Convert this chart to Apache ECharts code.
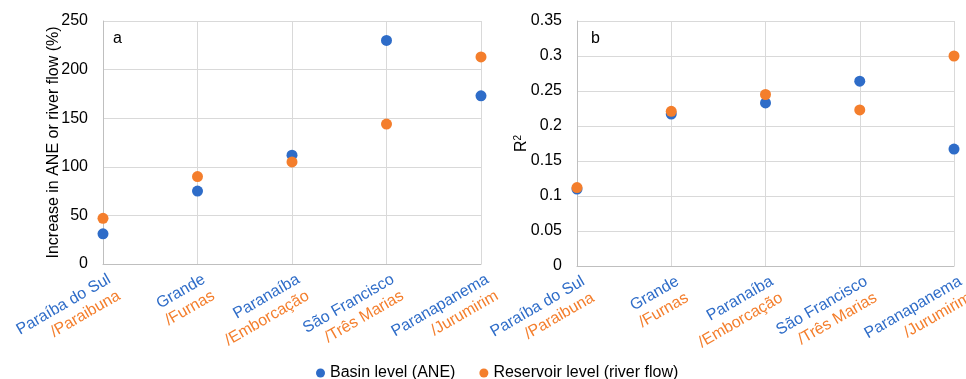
<!DOCTYPE html>
<html>
<head>
    <meta charset="utf-8">
    <title>Basin vs reservoir</title>
    <script src="https://cdn.jsdelivr.net/npm/echarts@6.0.0/dist/echarts.min.js"></script>
</head>
<body style="margin:0;background:#fff;">
    <div id="chart" style="width: 966px; height: 379px;"></div>
    <script>
        var basins = ["Paraíba do Sul", "Grande", "Paranaíba", "São Francisco", "Paranapanema"];
        var reservoirs = ["/Paraibuna", "/Furnas", "/Emborcação", "/Três Marias", "/Jurumirim"];

        // panel a: increase (%)
        var increaseBasin = [31, 75, 112, 230, 173];
        var increaseReservoir = [47, 90, 105, 144, 213];
        // panel b: R2
        var r2Basin = [0.11, 0.217, 0.233, 0.264, 0.167];
        var r2Reservoir = [0.112, 0.221, 0.245, 0.223, 0.300];

        var blue = '#2e6cc8';
        var orange = '#f47e2c';
        var font = 'Liberation Sans, Arial, sans-serif';

        var chart = echarts.init(document.querySelector("#chart"));

        var cats = basins.map(function (b, i) { return b + '|' + i; });

        function xAxis(idx) {
            return {
                type: 'category',
                gridIndex: idx,
                data: cats,
                boundaryGap: false,
                axisLine: { lineStyle: { color: '#bfbfbf' } },
                axisTick: { show: false },
                splitLine: { show: true, lineStyle: { color: '#d9d9d9' } },
                axisLabel: {
                    rotate: 30,
                    margin: 7,
                    interval: 0,
                    hideOverlap: false,
                    verticalAlign: 'top',
                    padding: [0, -2, 0, 0],
                    fontFamily: font,
                    fontSize: 16,
                    formatter: function (v) {
                        var i = +v.split('|')[1];
                        return '{a|' + basins[i] + '}\n{b|' + reservoirs[i] + '}';
                    },
                    rich: {
                        a: { color: blue, fontSize: 16, fontFamily: font, lineHeight: 19, align: 'right' },
                        b: { color: orange, fontSize: 16, fontFamily: font, lineHeight: 19, align: 'right' }
                    }
                }
            };
        }

        function yAxis(idx, max, interval, name, gap, fmt) {
            return {
                type: 'value',
                gridIndex: idx,
                min: 0,
                max: max,
                interval: interval,
                name: name,
                nameLocation: 'middle',
                nameGap: gap,
                nameMoveOverlap: false,
                nameTextStyle: { color: '#000', fontSize: 16, fontFamily: font,
                    rich: { sup: { fontSize: 10, verticalAlign: 'top', padding: [0, 0, 8, 0], fontFamily: font } } },
                axisLine: { show: true, lineStyle: { color: '#bfbfbf' } },
                axisTick: { show: false },
                splitLine: { lineStyle: { color: '#d9d9d9' } },
                axisLabel: { color: '#000', fontSize: 16, fontFamily: font, margin: 15, formatter: fmt }
            };
        }

        function pts(arr) {
            return arr.map(function (v, i) { return [cats[i], v]; });
        }

        var option = {
            animation: false,
            textStyle: { fontFamily: font },
            title: [
                { text: 'a', left: 113, top: 31, padding: 0, textStyle: { fontSize: 16, fontWeight: 'normal', color: '#000', fontFamily: font } },
                { text: 'b', left: 591, top: 31, padding: 0, textStyle: { fontSize: 16, fontWeight: 'normal', color: '#000', fontFamily: font } }
            ],
            legend: {
                left: 316,
                top: 365,
                padding: 0,
                itemWidth: 9,
                itemHeight: 9,
                itemGap: 24,
                icon: 'circle',
                textStyle: { fontSize: 16, color: '#000', fontFamily: font },
                data: ['Basin level (ANE)', 'Reservoir level (river flow)']
            },
            grid: [
                { left: 103, right: 485, top: 21, bottom: 115, outerBoundsMode: 'none' },
                { left: 577, right: 12, top: 21, bottom: 113, outerBoundsMode: 'none' }
            ],
            xAxis: [xAxis(0), xAxis(1)],
            yAxis: [
                yAxis(0, 250, 50, 'Increase in ANE or river flow (%)', 41),
                yAxis(1, 0.35, 0.05, 'R{sup|2}', 46, function (v) { return +v.toFixed(2) + ''; })
            ],
            series: [
                { name: 'Basin level (ANE)', type: 'scatter', xAxisIndex: 0, yAxisIndex: 0, symbolSize: 11, itemStyle: { color: blue, opacity: 1 }, data: pts(increaseBasin) },
                { name: 'Reservoir level (river flow)', type: 'scatter', xAxisIndex: 0, yAxisIndex: 0, symbolSize: 11, itemStyle: { color: orange, opacity: 1 }, data: pts(increaseReservoir) },
                { name: 'Basin level (ANE)', type: 'scatter', xAxisIndex: 1, yAxisIndex: 1, symbolSize: 11, itemStyle: { color: blue, opacity: 1 }, data: pts(r2Basin) },
                { name: 'Reservoir level (river flow)', type: 'scatter', xAxisIndex: 1, yAxisIndex: 1, symbolSize: 11, itemStyle: { color: orange, opacity: 1 }, data: pts(r2Reservoir) }
            ]
        };
        chart.setOption(option);
    </script>
</body>
</html>
